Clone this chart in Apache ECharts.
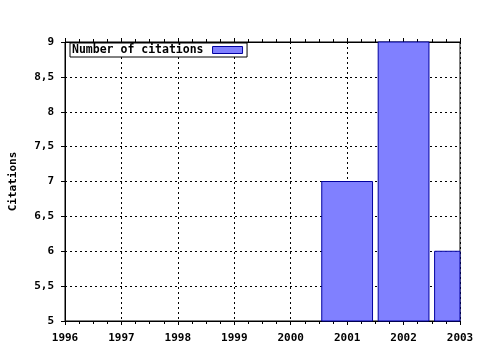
<!DOCTYPE html>
<html><head><meta charset="utf-8">
<script src="https://cdn.jsdelivr.net/npm/echarts@6/dist/echarts.min.js"></script>
<style>html,body{margin:0;padding:0;background:#fff}#c{width:480px;height:350px}</style>
</head><body><div id="c"></div>
<script>
const years = [2001, 2002, 2003];
const citations = [7, 9, 6];
const seriesName = 'Number of citations';
const yAxisName = 'Citations';

const font = 'DejaVu Sans Mono';
const barFill = '#8080ff', barEdge = '#0000a0';
const chart = echarts.init(document.getElementById('c'), null, {renderer: 'canvas'});
const data = years.map((y, i) => [y, citations[i]]);
const barW = 0.9; // in year units
function renderBar(params, api) {
  const x = api.value(0), v = api.value(1);
  const p0 = api.coord([x - barW / 2, v]);
  const p1 = api.coord([x + barW / 2, 5]);
  const cs = params.coordSys;
  const rect = echarts.graphic.clipRectByRect(
    {x: p0[0], y: p0[1], width: p1[0] - p0[0], height: p1[1] - p0[1]},
    {x: cs.x, y: cs.y, width: cs.width, height: cs.height});
  if (!rect) return;
  return {type: 'rect', shape: rect, style: {fill: barFill, stroke: barEdge, lineWidth: 1}};
}
chart.setOption({
  animation: false,
  backgroundColor: '#fff',
  grid: {left: 65, right: 20, top: 42, bottom: 29, containLabel: false, outerBoundsMode: 'none',
    show: true, borderColor: '#000', borderWidth: 1, backgroundColor: 'transparent'},
  legend: {
    show: true, left: 70, top: 43, orient: 'horizontal', align: 'right',
    itemWidth: 30, itemHeight: 7, itemGap: 0,
    backgroundColor: '#fff', borderColor: '#000', borderWidth: 1,
    padding: [1, 4, 1, 2],
    textStyle: {fontFamily: font, fontWeight: 'bold', fontSize: 11.5, color: '#000', padding: [0, 4, 0, 0]},
    data: [{name: seriesName, icon: 'rect', itemStyle: {color: barFill, borderColor: barEdge, borderWidth: 1}}]
  },
  xAxis: [{
    type: 'value', min: 1996, max: 2003, interval: 1, position: 'bottom',
    axisLine: {show: true, lineStyle: {color: '#000', width: 1}},
    axisTick: {show: true, length: 4, lineStyle: {color: '#000'}},
    minorTick: {show: true, splitNumber: 4, length: 3, lineStyle: {color: '#000'}},
    axisLabel: {color: '#000', fontFamily: font, fontWeight: 'bold', fontSize: 11, margin: 12, formatter: v => String(v)},
    splitLine: {show: true, lineStyle: {color: '#000', type: [2, 3], width: 1}}
  }, {
    type: 'value', min: 1996, max: 2003, interval: 1, position: 'top',
    axisLine: {show: true, lineStyle: {color: '#000'}},
    axisTick: {show: true, length: 4, lineStyle: {color: '#000'}},
    minorTick: {show: true, splitNumber: 4, length: 3, lineStyle: {color: '#000'}},
    axisLabel: {show: false}, splitLine: {show: false}
  }],
  yAxis: {
    type: 'value', min: 5, max: 9, interval: 0.5,
    name: yAxisName, nameLocation: 'middle', nameGap: 46, nameRotate: 90,
    nameTextStyle: {color: '#000', fontFamily: font, fontWeight: 'bold', fontSize: 11},
    axisLine: {show: true, lineStyle: {color: '#000', width: 1}},
    axisTick: {show: true, length: 4, lineStyle: {color: '#000'}},
    axisLabel: {color: '#000', fontFamily: font, fontWeight: 'bold', fontSize: 11, margin: 11,
      formatter: v => String(v).replace('.', ',')},
    splitLine: {show: true, lineStyle: {color: '#000', type: [2, 3], width: 1}}
  },
  series: [{
    name: seriesName, type: 'custom', data: data, renderItem: renderBar,
    encode: {x: 0, y: 1},
    itemStyle: {color: barFill, borderColor: barEdge, borderWidth: 1}
  }]
});
</script></body></html>
